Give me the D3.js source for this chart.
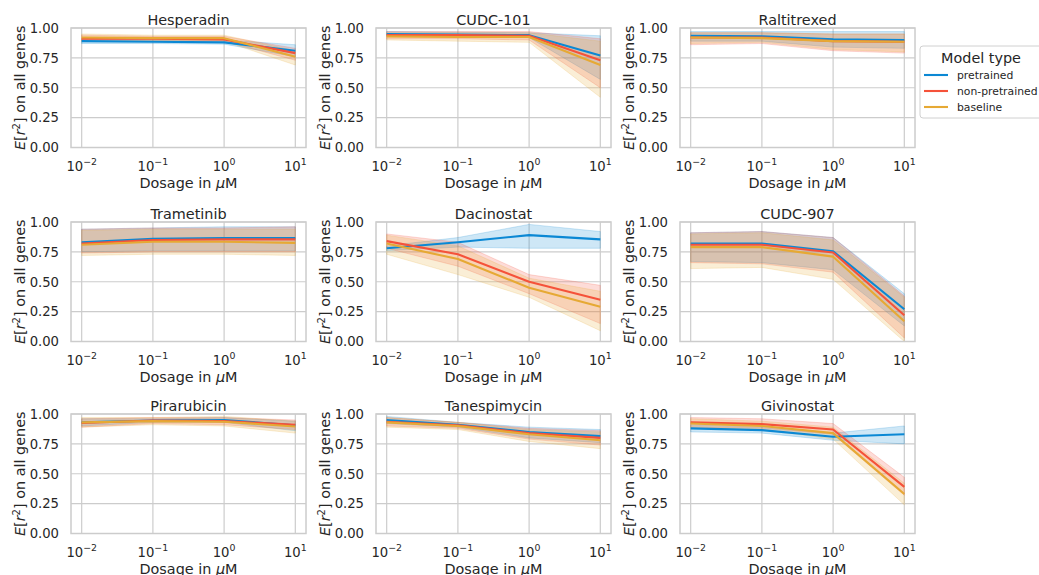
<!DOCTYPE html>
<html><head><meta charset="utf-8">
<script src="https://cdn.jsdelivr.net/npm/d3@7"></script>
<style>body{margin:0;background:#fff}svg{display:block}text{font-family:"DejaVu Sans",sans-serif;fill:#262626}</style>
</head><body>
<svg id="chart" width="1039" height="575"></svg>
<script>
const drugs = ["Hesperadin","CUDC-101","Raltitrexed","Trametinib","Dacinostat","CUDC-907","Pirarubicin","Tanespimycin","Givinostat"];
const dosages = [0.01, 0.1, 1, 10];
const models = ["pretrained", "non-pretrained", "baseline"];
const modelColors = ["#0b88d4", "#f5523a", "#e6a934"];
const yTicks = [0, 0.25, 0.5, 0.75, 1];
const xTickExponents = ["\u22122", "\u22121", "0", "1"];

const pretrainedMean = [
  [0.89,0.885,0.88,0.81],[0.95,0.945,0.94,0.77],[0.935,0.93,0.905,0.90],
  [0.83,0.86,0.865,0.865],[0.78,0.83,0.89,0.855],[0.82,0.82,0.755,0.27],
  [0.93,0.945,0.95,0.905],[0.95,0.91,0.85,0.815],[0.88,0.865,0.81,0.83]];
const pretrainedLow = [
  [0.87,0.87,0.865,0.76],[0.93,0.925,0.92,0.57],[0.89,0.89,0.84,0.83],
  [0.75,0.76,0.76,0.76],[0.76,0.79,0.78,0.78],[0.67,0.66,0.60,0.13],
  [0.90,0.93,0.93,0.86],[0.92,0.89,0.80,0.76],[0.85,0.84,0.78,0.75]];
const pretrainedHigh = [
  [0.91,0.905,0.90,0.86],[0.97,0.965,0.96,0.935],[0.97,0.97,0.97,0.97],
  [0.94,0.95,0.96,0.96],[0.80,0.87,0.98,0.92],[0.91,0.92,0.87,0.40],
  [0.96,0.96,0.97,0.94],[0.98,0.93,0.89,0.87],[0.91,0.89,0.84,0.90]];

const nonPretrainedMean = [
  [0.91,0.91,0.905,0.79],[0.94,0.94,0.935,0.73],[0.92,0.92,0.89,0.885],
  [0.82,0.85,0.855,0.855],[0.84,0.73,0.50,0.35],[0.81,0.81,0.745,0.22],
  [0.925,0.945,0.94,0.91],[0.935,0.905,0.84,0.80],[0.93,0.915,0.87,0.39]];
const nonPretrainedLow = [
  [0.89,0.89,0.89,0.73],[0.91,0.91,0.90,0.50],[0.86,0.87,0.81,0.79],
  [0.74,0.75,0.75,0.75],[0.78,0.63,0.40,0.15],[0.66,0.65,0.58,0.03],
  [0.89,0.92,0.91,0.87],[0.90,0.88,0.79,0.74],[0.89,0.88,0.83,0.32]];
const nonPretrainedHigh = [
  [0.94,0.93,0.93,0.83],[0.97,0.97,0.97,0.91],[0.96,0.96,0.95,0.95],
  [0.94,0.95,0.95,0.96],[0.90,0.83,0.56,0.47],[0.91,0.92,0.87,0.38],
  [0.96,0.97,0.97,0.95],[0.97,0.93,0.88,0.86],[0.97,0.96,0.92,0.47]];

const baselineMean = [
  [0.92,0.915,0.915,0.76],[0.93,0.925,0.925,0.69],[0.92,0.915,0.89,0.885],
  [0.81,0.835,0.835,0.825],[0.82,0.69,0.45,0.29],[0.79,0.79,0.71,0.17],
  [0.93,0.94,0.935,0.895],[0.93,0.90,0.83,0.78],[0.92,0.90,0.84,0.33]];
const baselineLow = [
  [0.89,0.89,0.89,0.69],[0.90,0.89,0.88,0.42],[0.87,0.88,0.82,0.80],
  [0.72,0.73,0.73,0.72],[0.73,0.56,0.37,0.09],[0.61,0.62,0.52,0.00],
  [0.89,0.91,0.90,0.84],[0.89,0.87,0.77,0.71],[0.88,0.87,0.79,0.24]];
const baselineHigh = [
  [0.95,0.94,0.94,0.81],[0.96,0.96,0.96,0.89],[0.96,0.96,0.95,0.95],
  [0.93,0.94,0.94,0.94],[0.89,0.80,0.53,0.42],[0.90,0.91,0.85,0.37],
  [0.97,0.97,0.98,0.94],[0.97,0.93,0.87,0.85],[0.96,0.94,0.89,0.42]];

const seriesMean = [pretrainedMean, nonPretrainedMean, baselineMean];
const seriesLow = [pretrainedLow, nonPretrainedLow, baselineLow];
const seriesHigh = [pretrainedHigh, nonPretrainedHigh, baselineHigh];

const svg = d3.select("#chart");
const colLeft = [71, 376, 680], rowTop = [28, 222, 414];
const W = 235, H = 119.5;
const grid = "#cccccc";

drugs.forEach((drug, di) => {
  const x0 = colLeft[di % 3], y0 = rowTop[Math.floor(di / 3)];
  const g = svg.append("g").attr("transform", `translate(${x0},${y0})`);
  const x = d3.scaleLog().domain([Math.pow(10, -2.15), Math.pow(10, 1.15)]).range([0, W]);
  const y = d3.scaleLinear().domain([0, 1]).range([H, 0]);

  // grid
  g.selectAll(".gx").data(dosages).join("line")
    .attr("x1", d => x(d)).attr("x2", d => x(d)).attr("y1", 0).attr("y2", H)
    .attr("stroke", grid).attr("stroke-width", 1.2);
  g.selectAll(".gy").data(yTicks).join("line")
    .attr("x1", 0).attr("x2", W).attr("y1", d => y(d)).attr("y2", d => y(d))
    .attr("stroke", grid).attr("stroke-width", 1.2);

  // bands
  models.forEach((m, mi) => {
    const pts = dosages.map((d, i) => ({x: d, lo: seriesLow[mi][di][i], hi: seriesHigh[mi][di][i]}));
    g.append("path").datum(pts)
      .attr("d", d3.area().x(p => x(p.x)).y0(p => y(p.lo)).y1(p => y(p.hi)))
      .attr("fill", modelColors[mi]).attr("fill-opacity", 0.2)
      .attr("stroke", modelColors[mi]).attr("stroke-opacity", 0.2).attr("stroke-width", 1);
  });
  // lines
  models.forEach((m, mi) => {
    const pts = dosages.map((d, i) => ({x: d, v: seriesMean[mi][di][i]}));
    g.append("path").datum(pts)
      .attr("d", d3.line().x(p => x(p.x)).y(p => y(p.v)))
      .attr("fill", "none").attr("stroke", modelColors[mi]).attr("stroke-width", 2.1)
      .attr("stroke-linejoin", "round").attr("stroke-linecap", "butt");
  });

  // spines
  g.append("rect").attr("x", 0).attr("y", 0).attr("width", W).attr("height", H)
    .attr("fill", "none").attr("stroke", grid).attr("stroke-width", 1.5);

  // y tick labels
  g.selectAll(".yt").data(yTicks).join("text")
    .attr("x", -12).attr("y", d => y(d)).attr("dy", "0.36em")
    .attr("text-anchor", "end").attr("font-size", 13.2)
    .text(d => d3.format(".2f")(d));

  // x tick labels
  dosages.forEach((d, i) => {
    const t = g.append("text").attr("x", x(d)).attr("y", H + 23)
      .attr("text-anchor", "middle").attr("font-size", 13.2);
    t.append("tspan").text("10");
    t.append("tspan").attr("dy", -5.5).attr("font-size", 9.4).text(xTickExponents[i]);
  });

  // title
  g.append("text").attr("x", W / 2).attr("y", -3.5).attr("text-anchor", "middle")
    .attr("font-size", 14.4).text(drug);

  // x label
  const xl = g.append("text").attr("x", W / 2).attr("y", H + 40.7)
    .attr("text-anchor", "middle").attr("font-size", 14.4);
  xl.append("tspan").text("Dosage in ");
  xl.append("tspan").attr("font-style", "italic").text("\u03bc");
  xl.append("tspan").text("M");

  // y label
  const yl = g.append("text")
    .attr("transform", `translate(-46,${H / 2}) rotate(-90)`)
    .attr("text-anchor", "middle").attr("font-size", 14.4);
  yl.append("tspan").attr("font-style", "italic").text("E");
  yl.append("tspan").text("[");
  yl.append("tspan").attr("font-style", "italic").text("r");
  yl.append("tspan").attr("dy", -5.5).attr("font-size", 10).text("2");
  yl.append("tspan").attr("dy", 5.5).text("] on all genes");
});

// legend
const lg = svg.append("g").attr("transform", "translate(920,46)");
lg.append("rect").attr("x", 0).attr("y", 0).attr("width", 130).attr("height", 72)
  .attr("rx", 3).attr("fill", "#fff").attr("fill-opacity", 0.8)
  .attr("stroke", "#d0d0d0").attr("stroke-width", 1);
lg.append("text").attr("x", 61).attr("y", 16.5).attr("text-anchor", "middle")
  .attr("font-size", 14.4).text("Model type");
models.forEach((m, mi) => {
  const yy = 29 + mi * 16;
  lg.append("line").attr("x1", 4).attr("x2", 28).attr("y1", yy).attr("y2", yy)
    .attr("stroke", modelColors[mi]).attr("stroke-width", 2.1);
  lg.append("text").attr("x", 37).attr("y", yy).attr("dy", "0.35em")
    .attr("font-size", 10.8).text(m);
});
</script>
</body></html>
